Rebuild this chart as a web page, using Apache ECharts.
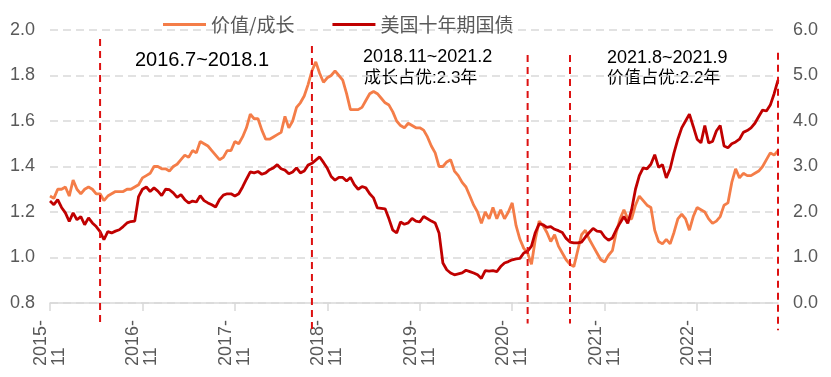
<!DOCTYPE html>
<html>
<head>
<meta charset="utf-8">
<script src="https://cdn.jsdelivr.net/npm/echarts@6/dist/echarts.min.js"></script>
<style>
  html, body { margin: 0; padding: 0; background: #fff; }
  #chart { width: 831px; height: 377px; }
</style>
</head>
<body>
<div id="chart"></div>
<script>
// half-month points starting 2015-11
var startYear = 2015, startMonth = 11, pointCount = 190;
var dates = [];
for (var k = 0; k < pointCount; k++) {
  var m = startMonth - 1 + Math.floor(k / 2);
  var y = startYear + Math.floor(m / 12);
  var mm = (m % 12) + 1;
  dates.push(y + "-" + (mm < 10 ? "0" + mm : mm) + (k % 2 ? "-16" : "-01"));
}

// 价值/成长 (left axis)
var valueGrowth = [
  1.27, 1.26, 1.30, 1.30, 1.31, 1.27, 1.34, 1.30, 1.28, 1.30,
  1.31, 1.30, 1.28, 1.28, 1.25, 1.27, 1.28, 1.29, 1.29, 1.29,
  1.30, 1.30, 1.31, 1.32, 1.35, 1.36, 1.37, 1.40, 1.40, 1.39,
  1.39, 1.38, 1.40, 1.41, 1.43, 1.45, 1.44, 1.47, 1.46, 1.51,
  1.50, 1.49, 1.47, 1.45, 1.43, 1.44, 1.47, 1.47, 1.51, 1.50,
  1.53, 1.57, 1.63, 1.61, 1.61, 1.56, 1.52, 1.52, 1.53, 1.54,
  1.55, 1.62, 1.57, 1.60, 1.66, 1.68, 1.71, 1.76, 1.82, 1.86,
  1.81, 1.77, 1.79, 1.80, 1.82, 1.80, 1.78, 1.72, 1.65, 1.65,
  1.65, 1.66, 1.69, 1.72, 1.73, 1.72, 1.70, 1.68, 1.67, 1.64,
  1.60, 1.58, 1.57, 1.59, 1.58, 1.57, 1.57, 1.56, 1.53, 1.49,
  1.46, 1.40, 1.40, 1.42, 1.43, 1.38, 1.36, 1.33, 1.31, 1.27,
  1.23, 1.20, 1.15, 1.20, 1.17, 1.22, 1.17, 1.21, 1.17, 1.20,
  1.24, 1.14, 1.08, 1.04, 1.02, 0.97, 1.08, 1.16, 1.14, 1.11,
  1.07, 1.10, 1.05, 1.02, 0.99, 0.97, 0.96, 1.03, 1.10, 1.12,
  1.08, 1.05, 1.02, 0.99, 0.98, 1.01, 1.03, 1.11, 1.17, 1.21,
  1.17, 1.17, 1.23, 1.27, 1.25, 1.23, 1.22, 1.12, 1.07, 1.06,
  1.08, 1.06, 1.11, 1.17, 1.19, 1.17, 1.12, 1.18, 1.22, 1.21,
  1.20, 1.17, 1.15, 1.16, 1.18, 1.23, 1.24, 1.33, 1.39, 1.35,
  1.37, 1.36, 1.36, 1.37, 1.38, 1.40, 1.43, 1.46, 1.45, 1.47
];

// 美国十年期国债 (right axis, %)
var us10y = [
  2.24, 2.16, 2.27, 2.10, 1.98, 1.79, 1.98, 1.83, 1.90, 1.72,
  1.87, 1.76, 1.68, 1.57, 1.39, 1.57, 1.54, 1.58, 1.61, 1.68,
  1.76, 1.79, 1.80, 2.34, 2.50, 2.55, 2.45, 2.53, 2.46, 2.36,
  2.50, 2.49, 2.42, 2.32, 2.38, 2.27, 2.20, 2.24, 2.22, 2.36,
  2.25, 2.20, 2.16, 2.11, 2.27, 2.37, 2.40, 2.40, 2.35, 2.40,
  2.55, 2.72, 2.88, 2.86, 2.89, 2.83, 2.86, 2.93, 2.97, 3.04,
  2.95, 2.92, 2.84, 2.88, 2.97, 2.86, 2.90, 3.03, 3.07, 3.14,
  3.21, 3.09, 2.96, 2.78, 2.70, 2.76, 2.76, 2.68, 2.76, 2.60,
  2.50, 2.56, 2.53, 2.40, 2.31, 2.09, 2.08, 2.07, 1.85, 1.60,
  1.54, 1.78, 1.73, 1.76, 1.86, 1.80, 1.78, 1.90, 1.85, 1.80,
  1.76, 1.54, 0.88, 0.73, 0.66, 0.62, 0.64, 0.66, 0.72, 0.69,
  0.66, 0.62, 0.54, 0.71, 0.70, 0.71, 0.69, 0.80, 0.88, 0.91,
  0.95, 0.97, 0.98, 1.10, 1.14, 1.25, 1.55, 1.74, 1.72, 1.66,
  1.68, 1.62, 1.59, 1.55, 1.42, 1.34, 1.32, 1.32, 1.34, 1.45,
  1.55, 1.64, 1.58, 1.57, 1.45, 1.38, 1.43, 1.61, 1.76, 1.90,
  1.75, 2.05, 2.50, 2.80, 2.97, 2.95, 3.05, 3.26, 2.98, 3.04,
  2.75, 2.95, 3.30, 3.60, 3.85, 4.00, 4.15, 3.88, 3.60, 3.52,
  3.90, 3.52, 3.55, 3.78, 3.90, 3.45, 3.41, 3.50, 3.54, 3.60,
  3.75, 3.79, 3.85, 3.95, 4.10, 4.24, 4.22, 4.35, 4.60, 4.90
];

// vertical dashed markers: [category index, top (left axis), bottom (left axis)]
var markerIdx = [13, 68, 124, 135, 189];
var markerTop = [1.96, 1.93, 1.89, 1.89, 1.90];
var markerBottom = [0.70, 0.67, 0.71, 0.71, 0.68];

var markers = [];
for (var j = 0; j < markerIdx.length; j++) {
  markers.push([markerIdx[j], markerTop[j], markerBottom[j]]);
}

var latin = "'Liberation Sans', Arial, 'Noto Sans CJK SC', sans-serif";
var grey = "#595959";

var chart = echarts.init(document.getElementById("chart"));
chart.setOption({
  animation: false,
  backgroundColor: "#fff",
  textStyle: { fontFamily: latin },
  legend: {
    data: ["价值/成长", "美国十年期国债"],
    left: 158,
    top: 10,
    icon: "rect",
    itemWidth: 43,
    itemHeight: 3,
    itemGap: 38,
    textStyle: { fontSize: 19, color: grey, fontFamily: "'Noto Sans CJK SC', sans-serif" }
  },
  grid: { left: 50, right: 53, top: 30, bottom: 74 },
  xAxis: {
    type: "category",
    data: dates,
    boundaryGap: false,
    axisLine: { lineStyle: { color: "#d9d9d9", width: 1.5 } },
    axisTick: { show: true, interval: 23, length: 8, lineStyle: { color: "#d9d9d9", width: 1.5 } },
    axisLabel: {
      interval: 23,
      rotate: 90,
      align: "left",
      verticalAlign: "middle",
      margin: 63,
      fontSize: 18,
      lineHeight: 18,
      color: grey,
      formatter: function (v) {
        var p = v.split("-");
        return p[0] + "-\n" + p[1];
      }
    }
  },
  yAxis: [
    {
      type: "value",
      min: 0.8,
      max: 2.0,
      interval: 0.2,
      axisLine: { show: false },
      axisTick: { show: false },
      axisLabel: {
        margin: 15, fontSize: 18, color: grey,
        formatter: function (v) { return v.toFixed(1); }
      },
      splitLine: { lineStyle: { color: "#d9d9d9", width: 1.5, type: [8, 5] } }
    },
    {
      type: "value",
      min: 0,
      max: 6,
      interval: 1,
      axisLine: { show: false },
      axisTick: { show: false },
      axisLabel: {
        margin: 15, fontSize: 18, color: grey,
        formatter: function (v) { return v.toFixed(1); }
      },
      splitLine: { show: false }
    }
  ],
  series: [
    {
      name: "价值/成长",
      type: "line",
      data: valueGrowth,
      yAxisIndex: 0,
      showSymbol: false,
      color: "#F47D48",
      lineStyle: { width: 2.8 },
      z: 3
    },
    {
      name: "美国十年期国债",
      type: "line",
      data: us10y,
      yAxisIndex: 1,
      showSymbol: false,
      color: "#C00000",
      lineStyle: { width: 2.8 },
      z: 4
    },
    {
      name: "markers",
      type: "custom",
      yAxisIndex: 0,
      clip: false,
      silent: true,
      data: markers,
      encode: { x: 0, y: [1, 2] },
      renderItem: function (params, api) {
        var a = api.coord([api.value(0), api.value(1)]);
        var b = api.coord([api.value(0), api.value(2)]);
        return {
          type: "line",
          shape: { x1: a[0], y1: a[1], x2: b[0], y2: b[1] },
          style: { stroke: "#DD1111", lineWidth: 2, lineDash: [7, 5] }
        };
      },
      z: 5
    }
  ],
  graphic: [
    { type: "text", x: 135, y: 60, style: { text: "2016.7~2018.1", fill: "#000", fontSize: 20, fontFamily: latin, verticalAlign: "middle" } },
    { type: "text", x: 363, y: 57, style: { text: "2018.11~2021.2", fill: "#000", fontSize: 18, fontFamily: latin, verticalAlign: "middle" } },
    { type: "text", x: 364, y: 78, style: { text: "成长占优:2.3年", fill: "#000", fontSize: 17, fontFamily: latin, verticalAlign: "middle" } },
    { type: "text", x: 607, y: 58, style: { text: "2021.8~2021.9", fill: "#000", fontSize: 18, fontFamily: latin, verticalAlign: "middle" } },
    { type: "text", x: 607, y: 78, style: { text: "价值占优:2.2年", fill: "#000", fontSize: 17, fontFamily: latin, verticalAlign: "middle" } }
  ]
});
</script>
</body>
</html>
